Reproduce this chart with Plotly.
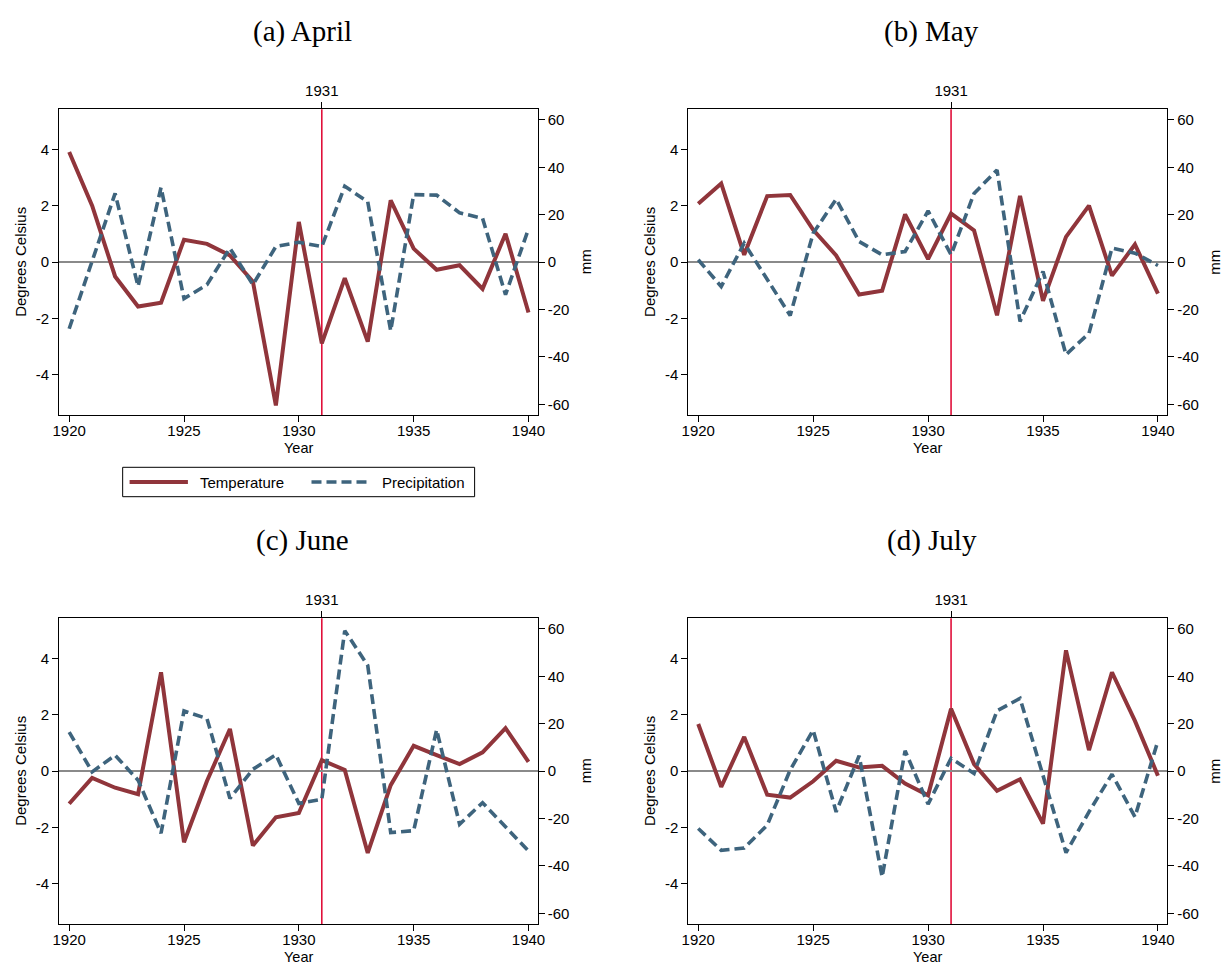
import plotly.graph_objects as go

years = list(range(1920, 1941))
event_year = 1931

panel_titles = ["(a) April", "(b) May", "(c) June", "(d) July"]
series_names = ["Temperature", "Precipitation"]

temp_apr = [3.92, 2.01, -0.51, -1.58, -1.44, 0.80, 0.65, 0.24, -0.69, -5.10, 1.43,
            -2.89, -0.57, -2.83, 2.20, 0.48, -0.27, -0.11, -0.95, 1.01, -1.79]
prec_apr = [-28.1, 1.0, 29.0, -10.2, 31.5, -15.4, -9.5, 5.9, -9.5, 6.6, 8.4,
            6.6, 32.0, 25.5, -29.0, 28.5, 28.3, 20.8, 18.5, -13.7, 14.0]

temp_may = [2.08, 2.80, 0.26, 2.35, 2.39, 1.15, 0.24, -1.15, -1.02, 1.70, 0.11,
            1.73, 1.13, -1.89, 2.36, -1.38, 0.90, 2.01, -0.48, 0.63, -1.12]
prec_may = [1.0, -10.3, 8.0, -7.4, -22.5, 12.2, 26.6, 8.7, 3.1, 4.5, 21.6,
            3.1, 29.0, 38.9, -25.0, -3.9, -39.0, -30.0, 5.9, 3.8, -1.4]

temp_jun = [-1.16, -0.24, -0.59, -0.82, 3.52, -2.53, -0.35, 1.50, -2.65, -1.64, -1.49,
            0.39, 0.04, -2.91, -0.50, 0.90, 0.57, 0.25, 0.67, 1.53, 0.33]
prec_jun = [16.5, -0.3, 6.7, -3.8, -26.2, 25.4, 22.2, -11.5, 0.8, 6.9, -13.6,
            -11.9, 59.3, 44.6, -25.9, -25.1, 17.5, -22.4, -13.3, -23.4, -33.7]

temp_jul = [1.68, -0.56, 1.22, -0.84, -0.94, -0.36, 0.37, 0.13, 0.19, -0.44, -0.86,
            2.22, 0.25, -0.70, -0.29, -1.87, 4.30, 0.75, 3.52, 1.79, -0.16]
prec_jul = [-24.2, -33.4, -32.4, -22.8, 0.5, 17.3, -17.2, 6.5, -44.6, 8.6, -13.9,
            5.4, -1.0, 25.5, 30.7, -1.7, -34.4, -17.2, -1.3, -19.3, 12.8]

temps = [temp_apr, temp_may, temp_jun, temp_jul]
precs = [prec_apr, prec_may, prec_jun, prec_jul]

x_ticks = [1920, 1925, 1930, 1935, 1940]
temp_ticks = [-4, -2, 0, 2, 4]
temp_ticktext = ["-4", "-2", "0", "2", "4"]
prec_ticks = [-60, -40, -20, 0, 20, 40, 60]
prec_ticktext = ["-60", "-40", "-20", "0", "20", "40", "60"]

W, H = 1229, 964
TEMP_COLOR = "#90353B"
PREC_COLOR = "#3E647D"
LINE_RED = "#E0103A"
FONT = "Liberation Sans, Arial, sans-serif"
TICK_FS = 15
TEMP_W, PREC_W, PREC_DASH = 4.0, 3.6, "10px,5px"

col_x = [(52.9, 536.8), (689.2, 1173.5)]
row_y = [(109.3, 415.0), (618.3, 924.0)]

xr = [1919.57, 1940.4]
yr_t = [-5.44, 5.44]
yr_p = [-64.5, 64.5]


def aid(n):
    return "" if n == 1 else str(n)


def px(x):
    return x / W


def py(y):
    return 1 - y / H


fig = go.Figure()
layout = dict(
    width=W, height=H,
    margin=dict(l=0, r=0, t=0, b=0),
    paper_bgcolor="white", plot_bgcolor="white",
    font=dict(family=FONT, size=TICK_FS, color="black"),
    showlegend=False,
)
annotations = []
shapes = []

for k in range(4):
    r, c = divmod(k, 2)
    x0, x1 = col_x[c]
    y0, y1 = row_y[r]
    nb, nt = 2 * k + 1, 2 * k + 2
    xb, xt = "x" + aid(nb), "x" + aid(nt)
    yl, yrr = "y" + aid(nb), "y" + aid(nt)
    xdom = [px(x0), px(x1)]
    ydom = [py(y1), py(y0)]

    axis_common = dict(showgrid=False, showline=True, linecolor="black", linewidth=1.2,
                       ticks="outside", ticklen=6, tickwidth=1.2, tickcolor="black",
                       tickfont=dict(family=FONT, size=TICK_FS, color="black"))

    layout["xaxis" + aid(nb)] = dict(
        domain=xdom, anchor=yl, range=xr, tickvals=x_ticks,
        zeroline=False, ticklabelstandoff=-4, **axis_common)
    layout["xaxis" + aid(nt)] = dict(
        overlaying=xb, anchor=yl, side="top", range=xr, tickvals=[event_year],
        zeroline=False, **axis_common)
    layout["yaxis" + aid(nb)] = dict(
        domain=ydom, anchor=xb, range=yr_t, tickvals=temp_ticks, ticktext=temp_ticktext,
        zeroline=True, zerolinecolor="#8a8a8a", zerolinewidth=1.6, **axis_common)
    layout["yaxis" + aid(nt)] = dict(
        overlaying=yl, anchor=xb, side="right", range=yr_p, tickvals=prec_ticks,
        ticktext=prec_ticktext, zeroline=False, **axis_common)

    fig.add_trace(go.Scatter(
        x=years, y=temps[k], mode="lines", name=series_names[0],
        line=dict(color=TEMP_COLOR, width=TEMP_W),
        xaxis=xb, yaxis=yl))
    fig.add_trace(go.Scatter(
        x=years, y=precs[k], mode="lines", name=series_names[1],
        line=dict(color=PREC_COLOR, width=PREC_W, dash=PREC_DASH),
        xaxis=xb, yaxis=yrr))
    fig.add_trace(go.Scatter(
        x=[event_year], y=[0], mode="markers", marker=dict(opacity=0),
        xaxis=xt, yaxis=yl, hoverinfo="skip"))

    shapes.append(dict(type="line", xref=xb, yref=f"{yl} domain",
                       x0=event_year, x1=event_year, y0=0, y1=1,
                       line=dict(color=LINE_RED, width=1.6), layer="below"))

    dref = dict(xref=f"{xb} domain", yref=f"{yl} domain", showarrow=False)
    annotations.append(dict(text=panel_titles[k], x=0.5, y=1, xshift=4, yshift=78,
                            xanchor="center", yanchor="middle",
                            font=dict(family="Liberation Serif, Times New Roman, serif",
                                      size=29, color="black"), **dref))
    annotations.append(dict(text="Degrees Celsius", x=0, y=0.5, xshift=-39.6, textangle=-90,
                            xanchor="center", yanchor="middle",
                            font=dict(family=FONT, size=15, color="black"), **dref))
    annotations.append(dict(text="mm", x=1, y=0.5, xshift=47.5, textangle=-90,
                            xanchor="center", yanchor="middle",
                            font=dict(family=FONT, size=15, color="black"), **dref))
    annotations.append(dict(text="Year", x=0.5, y=0, yshift=-22.5,
                            xanchor="center", yanchor="top",
                            font=dict(family=FONT, size=14.5, color="black"), **dref))

# legend (drawn under panel a)
leg_box = (117, 467.3, 473, 496.7)
leg_cy = (leg_box[1] + leg_box[3]) / 2
shapes.append(dict(type="rect", xref="paper", yref="paper",
                   x0=px(leg_box[0]), x1=px(leg_box[2]), y0=py(leg_box[3]), y1=py(leg_box[1]),
                   line=dict(color="black", width=1), fillcolor="white"))
leg_items = [(124, 183, 193, TEMP_COLOR, TEMP_W, "solid"),
             (308, 367, 377, PREC_COLOR, PREC_W, PREC_DASH)]
for name, (lx0, lx1, tx, col, wd, dsh) in zip(series_names, leg_items):
    shapes.append(dict(type="line", xref="paper", yref="paper",
                       x0=px(lx0), x1=px(lx1), y0=py(leg_cy), y1=py(leg_cy),
                       line=dict(color=col, width=wd, dash=dsh)))
    annotations.append(dict(text=name, xref="paper", yref="paper", x=px(tx), y=py(leg_cy),
                            xanchor="left", yanchor="middle", showarrow=False,
                            font=dict(family=FONT, size=15, color="black")))

layout["annotations"] = annotations
layout["shapes"] = shapes
fig.update_layout(**layout)
fig.write_html("out.html")
